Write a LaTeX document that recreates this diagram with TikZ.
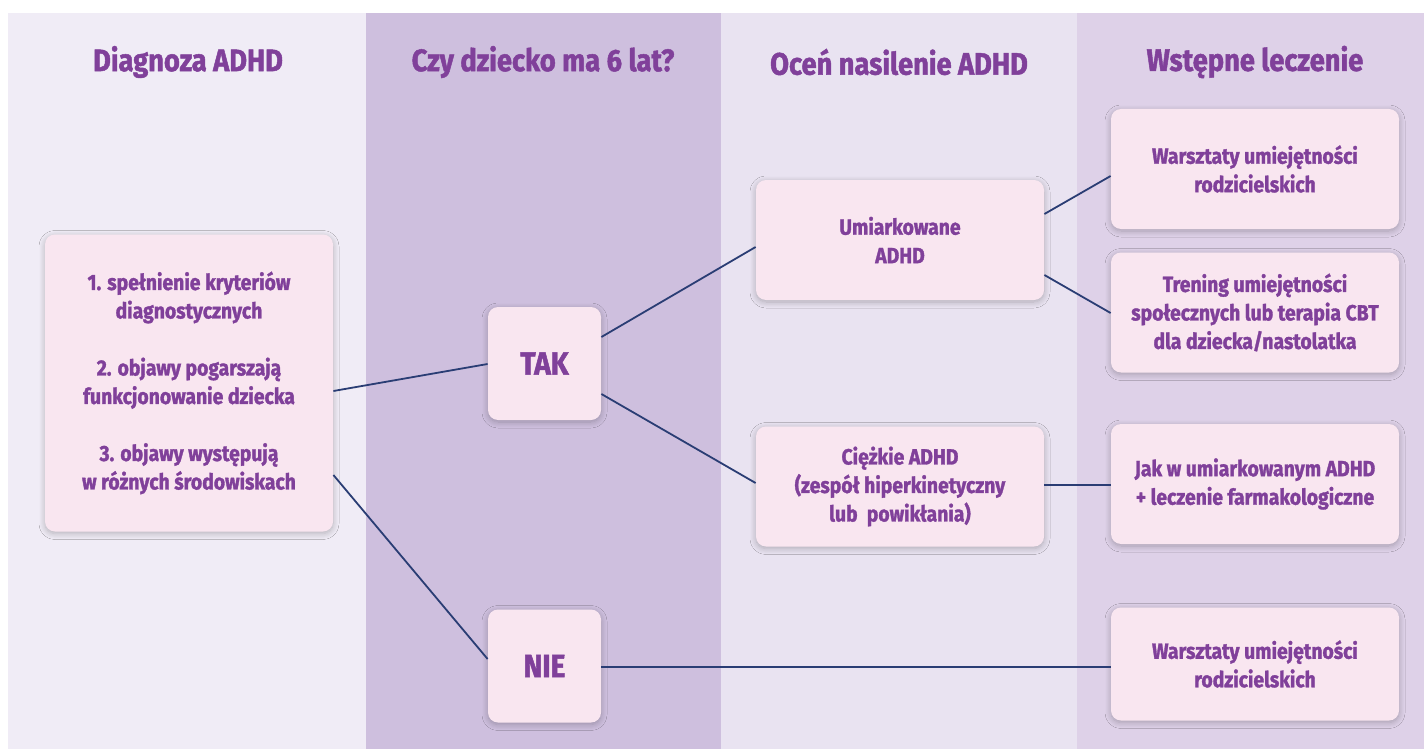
\documentclass[tikz,border=0pt]{standalone}
\usepackage{fontspec}
\newfontfamily\cf{Fira Sans}[FakeStretch=0.88, BoldFeatures={FakeBold=1.5}]
\usetikzlibrary{shadows.blur,calc}
\definecolor{colA}{HTML}{F0ECF6}
\definecolor{colB}{HTML}{CEBFDE}
\definecolor{colC}{HTML}{E9E3F1}
\definecolor{colD}{HTML}{DED1E8}
\definecolor{boxpink}{HTML}{F9E6F0}
\definecolor{purp}{HTML}{80409A}
\definecolor{navy}{HTML}{2A3D74}
\begin{document}
\begin{tikzpicture}[x=0.5pt,y=-0.5pt,
  box/.style={rounded corners=5pt, fill=boxpink, inner sep=0pt, align=center, text=purp,
    font=\cf\bfseries\fontsize{11}{14.25}\selectfont,
    blur shadow={shadow blur steps=8, shadow xshift=0pt, shadow yshift=-1pt, shadow blur radius=3pt, shadow opacity=25}},
  wide/.style={box, minimum width=144pt, minimum height=60pt},
  small/.style={box, minimum width=56.5pt, minimum height=56.5pt, font=\cf\bfseries\fontsize{16}{20}\selectfont},
  head/.style={text=purp, inner sep=0pt, font=\cf\bfseries\fontsize{15.5}{18}\selectfont},
  conn/.style={draw=navy, line width=0.9pt},
]
\useasboundingbox (0,0) rectangle (1424,749);
\fill[white] (0,0) rectangle (1424,749);
\fill[colA] (8,13) rectangle (366,749);
\fill[colB] (366,13) rectangle (721,749);
\fill[colC] (721,13) rectangle (1077,749);
\fill[colD] (1077,13) rectangle (1424,749);

\node[head] (h1) at (188,62) {Diagnoza ADHD};
\node[head] (h2) at (543,62) {Czy dziecko ma 6 lat?};
\node[head] (h3) at (899,62) {Oceń nasilenie ADHD};
\node[head] (h4) at (1255,62) {Wstępne leczenie};

\node[box, minimum width=144pt, minimum height=148.5pt] (diag) at (189,383)
  {1. spełnienie kryteriów\\diagnostycznych\\[14.25pt]2. objawy pogarszają\\funkcjonowanie dziecka\\[14.25pt]3. objawy występują\\w różnych środowiskach};
\node[small] (tak) at (544.5,363.5) {TAK};
\node[small] (nie) at (544.5,666) {NIE};
\node[wide] (umi) at (900,240) {Umiarkowane\\ADHD};
\node[wide] (cie) at (900,486.5) {Ciężkie ADHD\\(zespół hiperkinetyczny\\lub~~powikłania)};
\node[wide] (war1) at (1255,169) {Warsztaty umiejętności\\rodzicielskich};
\node[wide] (tre) at (1255,312.5) {Trening umiejętności\\społecznych lub terapia CBT\\dla dziecka/nastolatka};
\node[wide] (jak) at (1255,484) {Jak w umiarkowanym ADHD\\+ leczenie farmakologiczne};
\node[wide, minimum height=56.5pt] (war2) at (1255,664) {Warsztaty umiejętności\\rodzicielskich};

\draw[conn] ($(diag.east)+(0,8)$) -- ($(tak.west)+(0,0.5)$);
\draw[conn] ($(diag.east)+(0,92)$) -- ($(nie.west)+(0,-7)$);
\draw[conn] ($(tak.east)+(0,-26.5)$) -- ($(umi.west)+(0,7)$);
\draw[conn] ($(tak.east)+(0,30.5)$) -- ($(cie.west)+(0,-3.5)$);
\draw[conn] ($(umi.east)+(0,-26)$) -- ($(war1.west)+(0,7)$);
\draw[conn] ($(umi.east)+(0,35)$) -- ($(tre.west)+(0,0.5)$);
\draw[conn] ($(cie.east)+(0,-1.5)$) -- ($(jak.west)+(0,1)$);
\draw[conn] ($(nie.east)+(0,1)$) -- ($(war2.west)+(0,3)$);
\end{tikzpicture}
\end{document}
